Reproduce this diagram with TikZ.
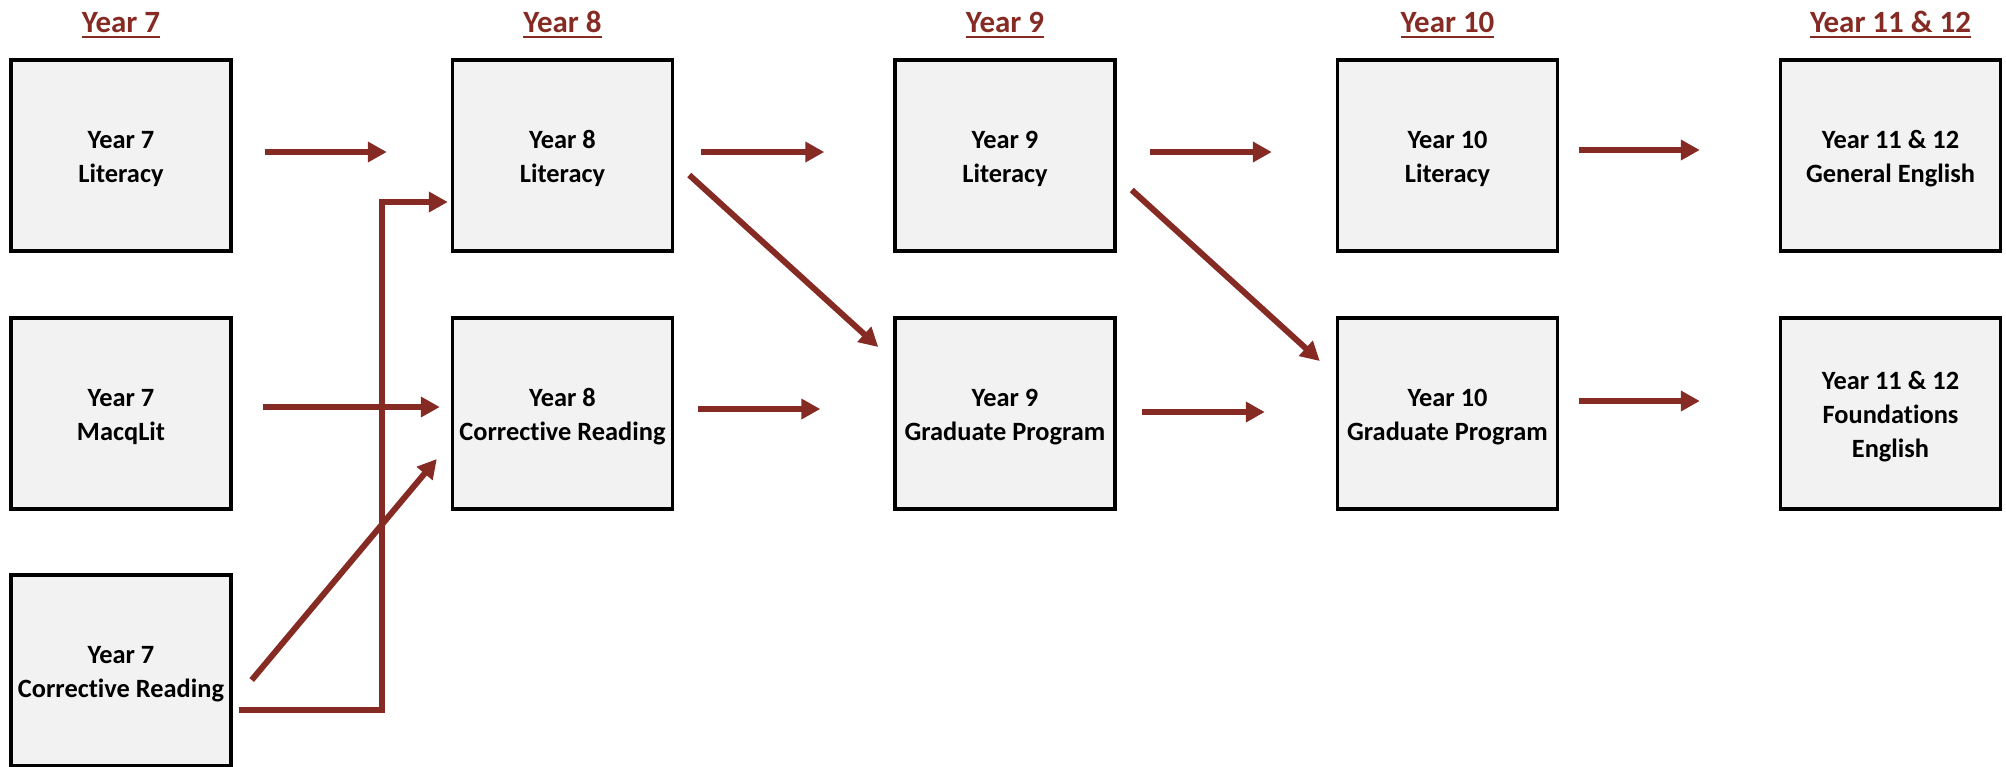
\documentclass[tikz,border=0pt]{standalone}
\usepackage{fontspec}
\setmainfont{Carlito}[Ligatures=NoCommon]
\usetikzlibrary{arrows.meta,calc}
\definecolor{pathred}{RGB}{133,43,36}
\definecolor{boxgray}{RGB}{242,242,242}

\begin{document}
\begin{tikzpicture}[x=0.01cm,y=-0.01cm,
    course/.style={draw=black,line width=0.95pt,fill=boxgray,minimum width=2.2cm,minimum height=1.91cm,inner sep=0pt,align=center,text height=16.6pt,font=\bfseries\fontsize{7.5pt}{9.7pt}\selectfont},
    link/.style={draw=pathred,line width=1.7pt,-{Triangle[length=5.4pt,width=5.6pt]}},
    yearlabel/.style={anchor=base,text=pathred,font=\bfseries\fontsize{8.8pt}{10pt}\selectfont}]
    \useasboundingbox (0,0) rectangle (2006,766);
    % Year headings
    \node[yearlabel] (h7) at (121,32) {\underline{Year 7}};
    \node[yearlabel] (h8) at (562.5,32) {\underline{Year 8}};
    \node[yearlabel] (h9) at (1005,32) {\underline{Year 9}};
    \node[yearlabel] (h10) at (1447.5,32) {\underline{Year 10}};
    \node[yearlabel] (h11) at (1890.5,32) {\underline{Year 11 \& 12}};
    % Courses
    \node[course] (y7lit) at (121,155.5) {Year 7\\Literacy};
    \node[course] (y7macq) at (121,413.5) {Year 7\\MacqLit};
    \node[course] (y7cr) at (121,670.5) {Year 7\\Corrective Reading};
    \node[course] (y8lit) at (562.5,155.5) {Year 8\\Literacy};
    \node[course] (y8cr) at (562.5,413.5) {Year 8\\Corrective Reading};
    \node[course] (y9lit) at (1005,155.5) {Year 9\\Literacy};
    \node[course] (y9grad) at (1005,413.5) {Year 9\\Graduate Program};
    \node[course] (y10lit) at (1447.5,155.5) {Year 10\\Literacy};
    \node[course] (y10grad) at (1447.5,413.5) {Year 10\\Graduate Program};
    \node[course] (y11gen) at (1890.5,155.5) {Year 11 \& 12\\General English};
    \node[course,text height=26.3pt] (y11found) at (1890.5,413.5) {Year 11 \& 12\\Foundations\\English};
    % Pathways out of Year 7
    \draw[link] ($(y7lit.east)+(32,-3.5)$) -- ($(y8lit.west)+(-64,-3.5)$);
    \draw[link] ($(y7macq.east)+(30,-6.5)$) -- ($(y8cr.west)+(-11,-6.5)$);
    \coordinate (jog) at ($(y8lit.west)+(-69,46.5)$);
    \draw[link] ($(y7cr.east)+(6,39.5)$) -| (jog) -- ($(y8lit.west)+(-3,46.5)$);
    \draw[link] ($(y7cr.east)+(19,9.5)$) -- ($(y8cr.west)+(-14,45.5)$);
    % Year 8 to Year 9
    \draw[link] ($(y8lit.east)+(27,-3.5)$) -- ($(y9lit.west)+(-69,-3.5)$);
    \draw[link] ($(y8lit.east)+(15,19.5)$) -- ($(y9grad.west)+(-15,-66.5)$);
    \draw[link] ($(y8cr.east)+(24,-4.5)$) -- ($(y9grad.west)+(-73,-4.5)$);
    % Year 9 to Year 10
    \draw[link] ($(y9lit.east)+(33,-3.5)$) -- ($(y10lit.west)+(-64,-3.5)$);
    \draw[link] ($(y9lit.east)+(15,34.5)$) -- ($(y10grad.west)+(-16,-52.5)$);
    \draw[link] ($(y9grad.east)+(25,-1.5)$) -- ($(y10grad.west)+(-71,-1.5)$);
    % Year 10 to Years 11 and 12
    \draw[link] ($(y10lit.east)+(20,-5.5)$) -- ($(y11gen.west)+(-79,-5.5)$);
    \draw[link] ($(y10grad.east)+(20,-12.5)$) -- ($(y11found.west)+(-79,-12.5)$);
\end{tikzpicture}
\end{document}
